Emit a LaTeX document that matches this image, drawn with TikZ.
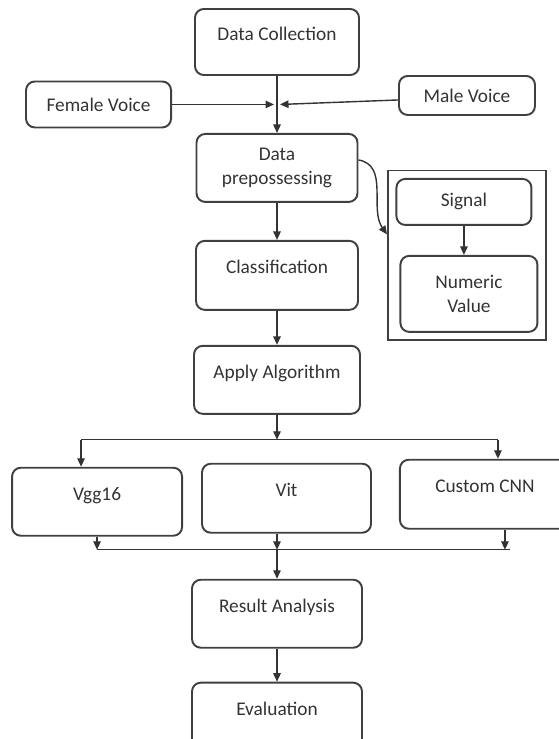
\documentclass[tikz,border=0pt]{standalone}
\usepackage{fontspec}
\setmainfont{Carlito}
\usepackage{tikz}
\usetikzlibrary{arrows.meta, positioning, fit, calc}
\tikzset{
  flowbox/.style={
    rectangle, rounded corners=5pt,
    draw=black!75, line width=1.1pt,
    text=black!80, align=center,
    font=\fontsize{11}{14}\selectfont
  },
  tallbox/.style={flowbox, text height=0.28cm, text depth=0.34cm},
  pipearrow/.style={-{Triangle[length=0.17cm,width=0.15cm]}, line width=0.8pt, color=black!80},
  pipeline/.style={line width=0.8pt, color=black!80},
}
\begin{document}
\begin{tikzpicture}
          \useasboundingbox (0,0) rectangle (11.16,-14.78);
          \node[tallbox,minimum width=3.28cm,minimum height=1.32cm]
               (dc) at (5.54,-0.84) {Data Collection};
          \node[flowbox,minimum width=3.22cm,minimum height=1.36cm,
                below=1.14cm of dc](pre){Data\\prepossessing};
          \coordinate (join) at ($(dc.south)!0.5!(pre.north)$);
          \node[flowbox,minimum width=2.9cm,minimum height=0.92cm,
                left=2.1cm of join](fem){Female Voice};
          \node[flowbox,minimum width=2.72cm,minimum height=0.78cm,
                right=2.42cm of join,yshift=0.18cm](male){Male Voice};
          \node[tallbox,minimum width=3.24cm,minimum height=1.38cm,
                below=0.74cm of pre](cls){Classification};
          \node[tallbox,minimum width=3.32cm,minimum height=1.36cm,
                below=0.68cm of cls](alg){Apply Algorithm};
          % signal part
          \node[flowbox,minimum width=2.7cm,minimum height=0.92cm,
                right=0.74cm of pre,yshift=-0.68cm](sig){Signal};
          \node[flowbox,minimum width=2.74cm,minimum height=1.52cm,
                below=0.58cm of sig,xshift=0.1cm](num){Numeric\\Value};
          \node[draw=black!75,line width=1.1pt,inner xsep=0.15cm,inner ysep=0.15cm,
                fit=(sig)(num)](prebox){};
          % models
          \coordinate[below=0.5cm of alg] (split);
          \node[tallbox,minimum width=3.38cm,minimum height=1.38cm,
                below=0.96cm of alg,xshift=0.19cm](vit){Vit};
          \node[tallbox,minimum width=3.4cm,minimum height=1.36cm,
                left=0.36cm of vit,yshift=-0.07cm](vgg){Vgg16};
          \node[tallbox,minimum width=3.4cm,minimum height=1.38cm,
                right=0.54cm of vit,yshift=0.08cm](cnn){Custom CNN};
          \node[tallbox,minimum width=3.4cm,minimum height=1.36cm,
                below=3.28cm of alg](res){Result Analysis};
          \coordinate[above=0.58cm of res] (merge);
          \node[tallbox,minimum width=3.4cm,minimum height=1.36cm,
                below=0.66cm of res](eva){Evaluation};
          % connectors
          \draw[pipearrow](dc.south)--(pre.north);
          \draw[pipearrow](fem.east)--([xshift=-0.06cm]join);
          \draw[pipearrow]([yshift=-0.09cm]male.west)--([xshift=0.06cm]join);
          \draw[pipearrow](pre.south)--(cls.north);
          \draw[pipearrow](cls.south)--(alg.north);
          \draw[pipearrow]([yshift=0.16cm]pre.east) to[out=-10,in=125]
               ([yshift=0.42cm]prebox.west);
          \draw[pipearrow](sig.south)--(sig.south |- num.north);
          \draw[pipearrow](alg.south)--(split);
          \draw[pipeline]([xshift=-0.32cm]vgg.north |- split)--([xshift=0.26cm]cnn.north |- split);
          \draw[pipearrow]([xshift=-0.32cm]vgg.north |- split)--([xshift=-0.32cm]vgg.north);
          \draw[pipearrow]([xshift=0.26cm]cnn.north |- split)--([xshift=0.26cm]cnn.north);
          \draw[pipearrow](vgg.south)--(vgg.south |- merge);
          \draw[pipearrow](vit.south -| merge)--(merge);
          \draw[pipearrow]([xshift=0.4cm]cnn.south)--([xshift=0.4cm]cnn.south |- merge);
          \draw[pipeline](vgg.south |- merge)--([xshift=0.5cm]cnn.south |- merge);
          \draw[pipearrow](merge)--(res.north);
          \draw[pipearrow](res.south)--(eva.north);
        \end{tikzpicture}
\end{document}
